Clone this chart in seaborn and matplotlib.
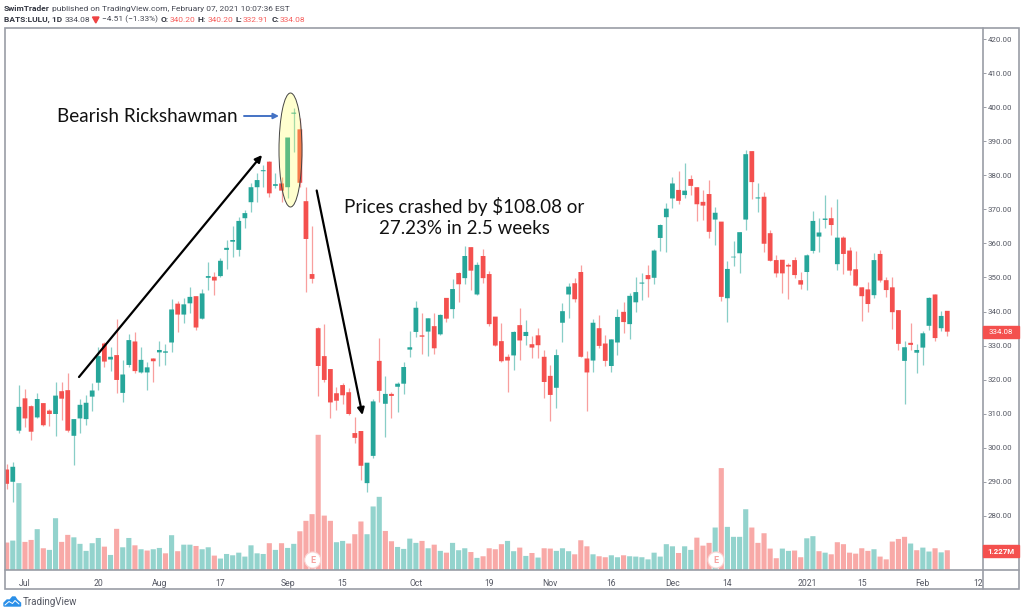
import pandas as pd
import numpy as np
import seaborn as sns
import matplotlib
matplotlib.use("Agg")
import matplotlib.pyplot as plt
from matplotlib.patches import Ellipse, Rectangle, Circle, Polygon, FancyArrowPatch

# daily candles, LULU Jun 26 2020 - Feb 5 2021
opens = [293.6,290.0,305.0,314.5,312.2,308.9,313.1,310.9,309.9,316.6,
         316.9,303.5,308.6,308.4,315.0,319.1,330.6,325.9,327.2,316.1,
         324.3,331.2,322.1,322.1,326.2,328.0,327.9,330.9,342.3,339.1,
         342.4,344.5,337.9,349.9,350.2,350.4,358.1,360.5,358.1,367.4,
         372.1,376.5,381.2,384.0,376.9,377.6,376.5,398.1,393.5,372.4,
         351.0,335.1,326.9,323.1,316.0,318.4,316.3,304.3,304.9,289.6,
         297.6,325.5,312.9,315.8,317.9,318.8,328.8,334.0,333.0,334.1,
         335.7,333.3,344.0,340.7,351.3,349.8,358.9,345.0,356.3,351.0,
         338.5,331.3,326.7,327.1,336.0,332.8,330.4,333.0,326.7,321.1,
         317.6,336.7,345.0,348.3,351.6,326.2,325.6,335.1,330.6,324.0,
         330.9,339.9,336.3,342.7,348.2,350.7,349.9,361.6,367.7,373.2,
         375.7,374.2,378.9,376.5,372.2,374.5,367.0,366.4,343.9,355.9,
         357.1,367.0,387.1,373.2,373.7,363.0,355.1,355.2,353.7,355.1,
         349.2,351.6,357.8,362.0,366.9,367.4,353.9,361.7,357.9,352.4,
         347.1,346.5,344.8,356.9,349.2,347.1,340.4,325.5,330.8,327.9,
         329.4,335.8,345.0,335.1,340.2]
closes = [289.4,294.4,312.0,308.6,304.7,314.3,306.6,309.9,315.3,314.4,
          305.0,308.4,312.6,313.2,316.8,326.9,325.3,326.7,319.9,321.5,
          331.6,322.5,325.8,323.6,325.4,328.7,328.3,340.6,339.1,342.1,
          344.3,335.3,345.3,350.4,349.1,354.9,358.7,361.0,366.6,368.9,
          376.5,378.6,381.5,374.7,377.4,375.5,391.1,398.4,377.8,361.3,
          349.6,324.0,319.9,313.3,313.8,315.4,309.9,302.9,294.7,295.6,
          313.6,316.7,315.8,315.2,318.8,323.7,329.5,341.1,332.6,338.0,
          329.2,339.0,337.9,346.6,348.0,356.3,352.0,353.7,349.8,336.3,
          330.0,325.4,325.6,334.0,331.5,334.0,329.4,330.1,319.3,315.5,
          327.2,340.1,347.3,343.6,326.7,322.1,336.7,329.9,325.5,331.8,
          338.4,336.9,344.6,345.7,348.5,349.5,357.9,365.4,370.2,377.6,
          372.5,375.5,376.9,371.5,371.1,363.4,369.0,344.3,352.5,356.1,
          363.3,386.2,378.0,373.5,359.9,354.9,351.2,351.2,353.2,350.7,
          347.9,356.5,366.6,363.2,367.3,365.4,361.7,356.9,352.0,347.6,
          344.5,342.2,355.1,349.1,346.3,339.8,330.5,329.5,330.2,328.7,
          333.6,344.0,332.2,338.7,334.08]
highs = [295.2,295.8,318.4,317.1,312.5,316.2,313.2,311.4,319.2,319.4,
         321.9,308.4,314.2,315.4,319.1,329.7,331.1,329.5,337.7,325.8,
         333.3,333.9,329.5,325.3,326.4,331.2,330.4,343.6,343.1,343.9,
         347.3,344.7,346.5,354.6,351.7,355.8,361.0,365.1,367.8,369.8,
         377.8,380.6,383.0,384.2,380.8,379.4,391.1,399.7,396.7,376.5,
         365.1,335.5,336.3,323.1,317.9,319.1,317.4,309.1,304.9,295.6,
         314.2,332.1,321.0,316.4,319.4,325.3,334.3,343.2,339.5,338.0,
         339.5,339.3,344.0,349.4,351.6,359.3,358.9,354.6,358.5,352.0,
         338.5,336.7,327.4,334.4,340.9,337.5,332.8,335.2,328.7,324.3,
         328.9,342.4,348.5,349.7,353.8,328.5,337.8,339.0,333.1,331.8,
         340.7,342.7,345.3,350.0,351.2,353.8,358.3,365.6,372.0,379.6,
         381.4,383.5,380.1,376.7,375.7,378.6,370.8,366.4,354.8,360.8,
         363.3,387.4,387.1,377.8,375.1,364.0,356.5,355.2,354.3,356.0,
         351.7,356.8,369.5,367.6,374.2,370.6,373.1,362.3,359.0,357.8,
         347.3,348.7,357.1,358.2,350.2,350.0,340.4,331.4,336.5,330.6,
         334.3,344.3,345.0,340.1,340.2]
lows = [288.0,284.1,304.2,306.2,302.4,308.6,306.4,306.4,303.5,308.1,
        304.6,294.9,304.2,306.6,310.8,316.9,323.8,322.6,316.0,313.5,
        323.8,321.8,321.8,316.9,319.4,324.0,324.3,328.2,334.1,336.5,
        339.6,334.7,337.7,346.3,344.8,350.0,352.4,356.1,356.3,364.4,
        369.3,372.2,376.7,373.7,376.2,372.2,373.4,386.9,376.7,345.8,
        348.3,315.2,319.4,308.6,311.0,312.7,309.6,301.5,290.5,287.1,
        296.9,313.5,303.2,308.6,310.6,315.9,326.7,332.4,327.5,327.0,
        327.4,333.0,337.0,338.2,342.7,348.1,346.3,344.8,348.3,335.8,
        329.8,325.1,316.4,322.8,325.7,330.2,326.2,326.3,314.7,307.9,
        311.8,331.1,338.2,342.9,326.7,310.9,322.1,329.4,324.1,322.1,
        327.2,333.8,332.0,339.9,343.4,344.3,348.1,357.9,357.6,370.3,
        371.6,373.4,374.2,366.7,366.9,361.7,359.5,343.2,337.0,353.4,
        351.4,363.9,373.1,369.3,357.6,354.9,350.2,345.3,343.6,349.7,
        346.7,346.3,357.2,357.6,364.4,362.4,352.2,351.1,350.7,347.6,
        337.3,339.9,343.9,348.8,344.3,334.9,328.7,312.8,328.7,322.0,
        324.3,334.6,331.3,334.3,332.91]
volumes = [1.70,1.82,5.34,1.74,1.86,2.52,1.35,1.25,3.19,1.74,
           2.17,2.02,1.62,1.19,1.66,1.98,1.45,0.94,2.54,1.41,
           1.98,1.53,1.29,1.21,1.29,1.37,1.04,2.15,1.17,1.57,
           1.57,1.49,1.29,1.41,0.90,0.72,1.00,0.92,1.08,0.84,
           1.53,1.04,1.00,1.66,1.25,1.66,1.37,1.62,2.39,3.03,
           3.44,8.30,3.35,3.03,1.72,1.80,1.64,2.21,2.99,2.21,
           3.91,4.50,2.41,1.78,1.43,1.31,1.94,1.68,1.80,1.35,
           1.57,1.19,1.08,1.68,1.23,1.35,1.12,0.76,0.86,1.35,
           1.29,1.60,1.80,1.17,1.39,0.88,1.06,0.78,1.35,1.33,
           1.19,1.35,1.17,0.98,1.84,1.47,0.98,0.86,0.80,0.92,
           0.80,0.92,0.86,0.84,0.80,0.67,1.08,0.84,1.60,1.47,
           1.06,1.47,1.25,2.00,1.51,1.68,2.62,6.26,2.66,2.05,
           2.05,3.74,2.62,1.68,2.27,1.33,0.74,1.33,1.19,1.21,
           0.80,1.96,2.09,1.17,1.08,0.98,1.72,1.60,1.08,1.02,
           1.35,1.19,1.29,0.84,0.67,1.76,1.92,2.05,1.64,1.23,
           1.39,1.15,1.35,1.10,1.227]

time_ticks = [3, 15, 25, 35, 46, 55, 67, 79, 89, 99, 109, 118, 131, 140, 150, 159]
time_labels = ["Jul", "20", "Aug", "17", "Sep", "15", "Oct", "19", "Nov", "16",
               "Dec", "14", "2021", "15", "Feb", "12"]
price_ticks = list(range(280, 430, 10))

GREEN = "#26a69a"
RED = "#f4504e"
GRID = "#9a9da6"
TEXT = "#555863"
UI_FONT = "Roboto"

df = pd.DataFrame({"day": range(len(opens)), "open": opens, "high": highs,
                   "low": lows, "close": closes, "volume": volumes})
df["body"] = (df["close"] - df["open"]).abs()
df["bottom"] = df[["open", "close"]].min(axis=1)
df["up"] = df["close"] >= df["open"]
# volume colour follows the close against the previous close
df["vol_up"] = df["close"].diff().fillna(-1) >= 0

sns.set_theme(style="white")
fig = plt.figure(figsize=(10.24, 6.14), dpi=100)
W, H = 1024, 614
L, R, T, B = 4.7, 982.7, 28.3, 570.3

# volume pane sits behind the price candles
ax_vol = fig.add_axes([L / W, 1 - B / H, (R - L) / W, (B - T) / H])
ax = fig.add_axes([L / W, 1 - B / H, (R - L) / W, (B - T) / H])
ax.patch.set_visible(False)

for flag, col in [(True, "#93d3cd"), (False, "#f8a9a7")]:
    sub = df[df["vol_up"] == flag]
    sns.barplot(data=sub, x="day", y="volume", native_scale=True, color=col,
                saturation=1, width=0.84, errorbar=None, linewidth=0, ax=ax_vol)

for flag, col in [(True, GREEN), (False, RED)]:
    sub = df[df["up"] == flag]
    ax.vlines(sub["day"], sub["low"], sub["high"], color=col, alpha=0.55, linewidth=0.9, zorder=1)
    sns.barplot(data=sub, x="day", y="body", bottom=sub["bottom"].values, native_scale=True,
                color=col, saturation=1, width=0.78, errorbar=None, linewidth=0, ax=ax, zorder=2)

# no pixel snapping, otherwise the bars come out uneven
for p in list(ax_vol.patches) + list(ax.patches):
    p.set_snap(False)

xlim = (-0.324, 159.8)
ax_vol.set_xlim(xlim)
ax_vol.set_ylim(0, 33.2)
ax_vol.axis("off")

ax.set_xlim(xlim)
ax.set_ylim(264.0, 423.17)
ax.set_xlabel("")
ax.set_ylabel("")
ax.set_xticks(time_ticks)
ax.set_xticklabels(time_labels)
ax.set_yticks(price_ticks)
ax.set_yticklabels([f"{t:.2f}" for t in price_ticks])
ax.yaxis.tick_right()
ax.tick_params(axis="x", length=2, width=0.7, color=GRID, labelsize=6.2, labelcolor=TEXT, pad=4.5)
ax.tick_params(axis="y", length=2, width=0.7, color=GRID, labelsize=5.7, labelcolor=TEXT, pad=1.5)
for lab in ax.get_xticklabels() + ax.get_yticklabels():
    lab.set_family(UI_FONT)
for sp in ax.spines.values():
    sp.set_visible(False)

# overlay in picture pixels for the frame, drawn notes and header
ov = fig.add_axes([0, 0, 1, 1], zorder=5)
ov.set_xlim(0, W)
ov.set_ylim(H, 0)
ov.axis("off")

ov.add_patch(Rectangle((L, T), 1019.3 - L, 589 - T, fill=False, edgecolor=GRID, linewidth=1.2))
ov.plot([R, R], [T, 589], color=GRID, linewidth=1.2)
ov.plot([L, 1019.3], [B, B], color=GRID, linewidth=1.2)

# header
ov.text(4, 8.5, "SwimTrader", fontsize=6.0, fontweight="bold", family=UI_FONT, color="#333641", va="center")
ov.text(52, 8.5, "published on TradingView.com, February 07, 2021 10:07:36 EST", fontsize=6.0,
        family=UI_FONT, color="#444752", va="center")
ov.text(4, 19.5, "BATS:LULU, 1D", fontsize=6.0, fontweight="bold", family=UI_FONT, color="#333641", va="center")
ov.text(65, 19.5, "334.08", fontsize=6.0, family=UI_FONT, color="#444752", va="center")
ov.add_patch(Polygon([(92.5, 17), (99, 17), (95.8, 23)], closed=True, color="#ef4444"))
ov.text(102, 19.5, "\u22124.51 (\u22121.33%)", fontsize=6.0, family=UI_FONT, color="#444752", va="center")
for xl, lab, xv, val in [(161, "O:", 170, "340.20"), (198, "H:", 207.5, "340.20"),
                         (236, "L:", 243, "332.91"), (272, "C:", 280, "334.08")]:
    ov.text(xl, 19.5, lab, fontsize=6.0, fontweight="bold", family=UI_FONT, color="#333641", va="center")
    ov.text(xv, 19.5, val, fontsize=6.0, family=UI_FONT, color="#f6605e", va="center")

# last value tags
ov.add_patch(Rectangle((983, 326), 36.3, 11.8, color="#f4504e", zorder=3))
ov.text(1001, 332.2, "334.08", fontsize=5.7, family=UI_FONT, color="white", ha="center", va="center", zorder=4)
ov.add_patch(Rectangle((983, 545), 36.3, 12, color="#f4504e", zorder=3))
ov.text(1001, 551.2, "1.227M", fontsize=5.7, fontweight="bold", family=UI_FONT, color="white",
        ha="center", va="center", zorder=4)

# earnings markers
for cx in [312.7, 716]:
    ov.add_patch(Circle((cx, 560), 8, facecolor="white", edgecolor="#fbd5d4", linewidth=0.8))
    ov.text(cx, 560.2, "E", fontsize=6.5, fontweight="bold", family=UI_FONT, color="#f6a3a1",
            ha="center", va="center")

# drawn annotations
ov.add_patch(Ellipse((290.5, 150), 23, 114, facecolor="#ffff40", alpha=0.25, edgecolor="none"))
ov.add_patch(Ellipse((290.5, 150), 23, 114, facecolor="none", edgecolor="#444444", linewidth=0.7))
ov.text(147.5, 116, "Bearish Rickshawman", fontsize=13.6, family="Lato", color="#111111", ha="center", va="center")
ov.text(464, 206, "Prices crashed by $108.08 or", fontsize=13.5, family="Lato", color="#111111", ha="center", va="center")
ov.text(464, 229, "27.23% in 2.5 weeks", fontsize=13.5, family="Lato", color="#111111", ha="center", va="center")
ov.add_patch(FancyArrowPatch((244, 116), (279, 116), arrowstyle="-|>", mutation_scale=8,
                             color="#4472c4", linewidth=1.4, shrinkA=0, shrinkB=0))
ov.add_patch(FancyArrowPatch((79, 377), (262, 155), arrowstyle="-|>", mutation_scale=10,
                             color="black", linewidth=1.6, shrinkA=0, shrinkB=0))
ov.add_patch(FancyArrowPatch((316.7, 190.5), (362.5, 415), arrowstyle="-|>", mutation_scale=10,
                             color="black", linewidth=1.6, shrinkA=0, shrinkB=0))

# footer logo
ov.add_patch(Polygon([(4, 606), (4, 603), (7, 600), (10, 600), (12.5, 597), (15, 597), (17, 600),
                      (20.5, 603), (20.5, 606)], closed=True, color="#2a8fe8"))
ov.plot([5, 9, 12.5, 15, 19], [605, 601.5, 603.5, 600.5, 604], color="white", linewidth=0.7)
ov.text(22.7, 601.7, "TradingView", fontsize=7, family=UI_FONT, color="#555863", va="center")

fig.savefig("out.png", dpi=100)
